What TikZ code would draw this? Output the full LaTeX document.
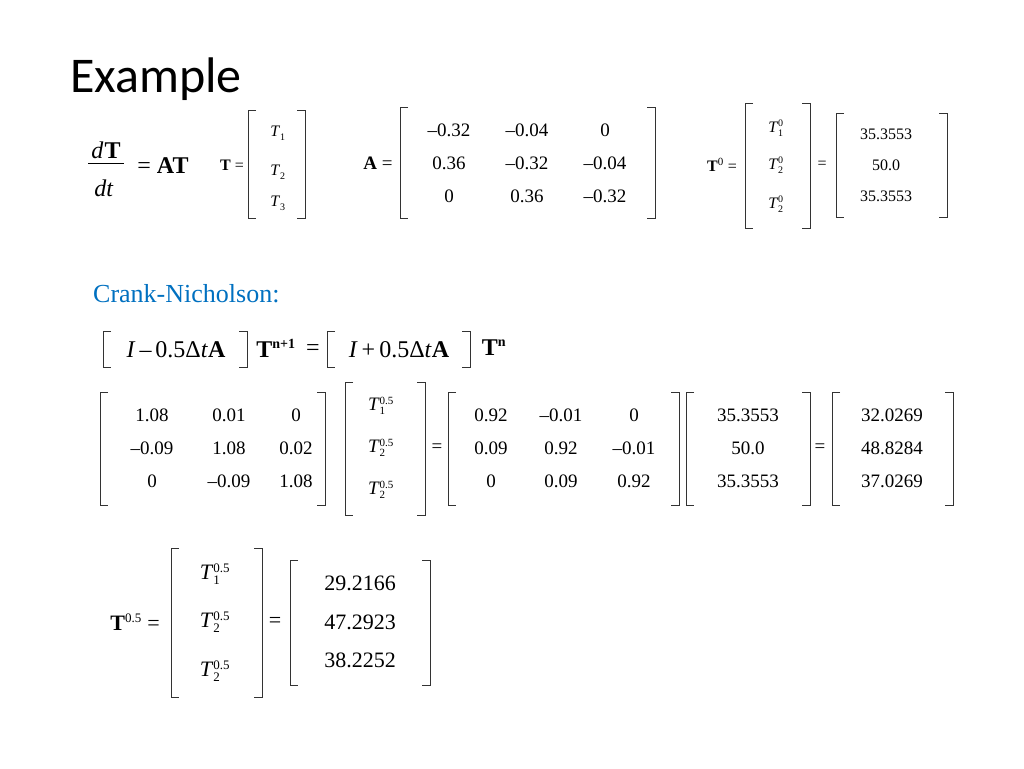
\documentclass[tikz,border=0pt]{standalone}
\usepackage{fontspec}
\setmainfont{Liberation Serif}
\newfontfamily\titlefont{Carlito}
\newcommand\Tv[3]{\textit{T}$^{\mbox{\fontsize{#3}{#3}\selectfont #2}}_{\mbox{\fontsize{#3}{#3}\selectfont #1}}$}
\begin{document}
\begin{tikzpicture}[x=1pt,y=-1pt,
  br/.style={line width=0.9pt,black!80},
  t/.style={inner sep=0pt,anchor=center,font=\fontsize{20}{22}\selectfont}]
\useasboundingbox (0,0) rectangle (1024,768);
\newcommand\Lb[3]{\draw[br] (#1+8,#2) -- (#1,#2) -- (#1,#3) -- (#1+8,#3);}
\newcommand\Rb[3]{\draw[br] (#1-8,#2) -- (#1,#2) -- (#1,#3) -- (#1-8,#3);}
\node[anchor=base west,inner sep=0pt,font=\titlefont\fontsize{50}{56}\selectfont] (title) at (70,92) {Example};
% dT/dt
\begin{scope}[every node/.style={t,font=\fontsize{24}{26}\selectfont}]
\node (dT) at (106,150) {\textit{d}\kern1pt\textbf{T}};
\draw (88,163) -- (124,163);
\node (dt) at (104,188) {\textit{dt}};
\node (AT) at (163,166) {= \textbf{AT}};
\end{scope}
\begin{scope}[every node/.style={t,font=\fontsize{16}{18}\selectfont}]
\node (Teq) at (232,165) {\textbf{T} =};
\node (t1) at (278,133) {\Tv{1}{}{10}};
\node (t2) at (278,172) {\Tv{2}{}{10}};
\node (t3) at (278,203) {\Tv{3}{}{10}};
\node (T0eq) at (722,165) {\textbf{T}$^{\mbox{\fontsize{11}{11}\selectfont 0}}$ =};
\node (s1) at (776,128) {\Tv{1}{0}{10}};
\node (s2) at (776,165) {\Tv{2}{0}{10}};
\node (s3) at (776,204) {\Tv{2}{0}{10}};
\node (eqa) at (822,165) {=};
\node (v1) at (886,134) {35.3553};
\node (v2) at (886,165) {50.0};
\node (v3) at (886,196) {35.3553};
\end{scope}
\Lb{248}{110}{218}\Rb{305}{110}{218}
\Lb{745}{103}{228}\Rb{810}{103}{228}
\Lb{836}{113}{217}\Rb{947}{113}{217}
\begin{scope}[every node/.style={t,font=\fontsize{19}{21}\selectfont}]
\node (Aeq) at (378,163) {\textbf{A} =};
\node (a11) at (449,130) {–0.32};
\node (a12) at (527,130) {–0.04};
\node (a13) at (605,130) {0};
\node (a21) at (449,163) {0.36};
\node (a22) at (527,163) {–0.32};
\node (a23) at (605,163) {–0.04};
\node (a31) at (449,196) {0};
\node (a32) at (527,196) {0.36};
\node (a33) at (605,196) {–0.32};
\end{scope}
\Lb{400}{107}{218}\Rb{655}{107}{218}
\node[anchor=base west,inner sep=0pt,text={rgb,255:red,0;green,112;blue,192},font=\fontsize{26}{28}\selectfont] (cn) at (93,302) {Crank-Nicholson:};
% CN equation
\begin{scope}[every node/.style={t,font=\fontsize{24}{26}\selectfont}]
\node (lhs) at (176,350) {\textit{I}\,–\,0.5Δ\textit{t}\textbf{A}};
\node (tn1) at (276,348) {\textbf{T}$^{\mbox{\fontsize{14}{14}\selectfont\bfseries n+1}}$};
\node (eqc) at (313,350) {=};
\node (rhs) at (399,350) {\textit{I}\,+\,0.5Δ\textit{t}\textbf{A}};
\node (tn) at (494,348) {\textbf{T}$^{\mbox{\fontsize{14}{14}\selectfont\bfseries n}}$};
\end{scope}
\Lb{103}{331}{367}\Rb{247}{331}{367}
\Lb{327}{331}{367}\Rb{470}{331}{367}
% row 3
\begin{scope}[every node/.style={t,font=\fontsize{19}{21}\selectfont}]
\node (b11) at (152,415) {1.08};\node (b12) at (229,415) {0.01};\node (b13) at (296,415) {0};
\node (b21) at (152,448) {–0.09};\node (b22) at (229,448) {1.08};\node (b23) at (296,448) {0.02};
\node (b31) at (152,481) {0};\node (b32) at (229,481) {–0.09};\node (b33) at (296,481) {1.08};
\node (h1) at (381,406) {\Tv{1}{0.5}{11}};
\node (h2) at (381,448) {\Tv{2}{0.5}{11}};
\node (h3) at (381,490) {\Tv{2}{0.5}{11}};
\node (eqd) at (437,448) {=};
\node (c11) at (491,415) {0.92};\node (c12) at (561,415) {–0.01};\node (c13) at (634,415) {0};
\node (c21) at (491,448) {0.09};\node (c22) at (561,448) {0.92};\node (c23) at (634,448) {–0.01};
\node (c31) at (491,481) {0};\node (c32) at (561,481) {0.09};\node (c33) at (634,481) {0.92};
\node (d1) at (748,415) {35.3553};\node (d2) at (748,448) {50.0};\node (d3) at (748,481) {35.3553};
\node (eqe) at (820,448) {=};
\node (e1) at (892,415) {32.0269};\node (e2) at (892,448) {48.8284};\node (e3) at (892,481) {37.0269};
\end{scope}
\Lb{100}{392}{505}\Rb{325}{392}{505}
\Lb{345}{382}{515}\Rb{425}{382}{515}
\Lb{448}{392}{505}\Rb{679}{392}{505}
\Lb{686}{392}{505}\Rb{810}{392}{505}
\Lb{832}{392}{505}\Rb{953}{392}{505}
% row 4
\begin{scope}[every node/.style={t,font=\fontsize{22}{24}\selectfont}]
\node (T5eq) at (135,622) {\textbf{T}$^{\mbox{\fontsize{13}{13}\selectfont 0.5}}$ =};
\node (f1) at (215,574) {\Tv{1}{0.5}{13}};
\node (f2) at (215,622) {\Tv{2}{0.5}{13}};
\node (f3) at (215,671) {\Tv{2}{0.5}{13}};
\node (eqf) at (275,622) {=};
\node (g1) at (360,583) {29.2166};
\node (g2) at (360,622) {47.2923};
\node (g3) at (360,660) {38.2252};
\end{scope}
\Lb{171}{548}{697}\Rb{262}{548}{697}
\Lb{290}{560}{685}\Rb{430}{560}{685}
\end{tikzpicture}
\end{document}
